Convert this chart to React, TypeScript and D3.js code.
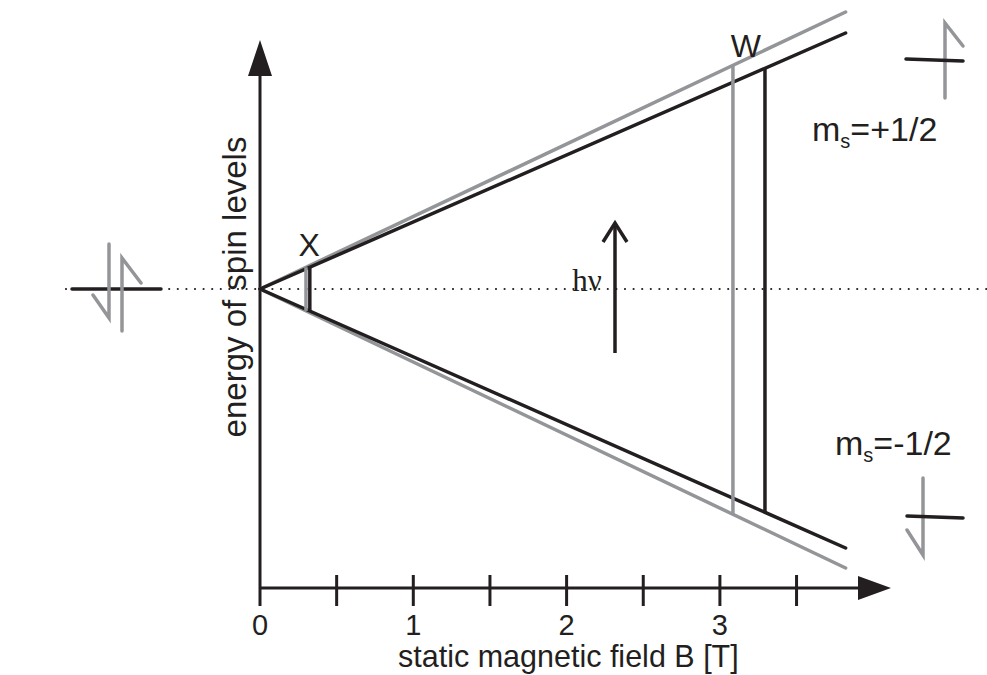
import React from "react"
import {scaleLinear, line} from "d3"

// field axis, tesla
const majorTicks = [0, 1, 2, 3]
const minorTicks = [0.5, 1, 1.5, 2, 2.5, 3, 3.5]
const tickLabels = ["0", "1", "2", "3"]

// energy levels [B, E] (arbitrary units)
const grayUpper = [[0, 0], [3.82, 2.77]]
const blackUpper = [[0, 0], [3.82, 2.56]]
const blackLower = [[0, 0], [3.82, -2.59]]
const grayLower = [[0, 0], [3.82, -2.79]]

// transitions: X band and W band
const grayTransitions = [0.30, 3.085]
const blackTransitions = [0.325, 3.294]
const bandLabels = [{text: "X", b: 0.32, e: 0.33}, {text: "W", b: 3.17, e: 2.32}]

const BLACK = "#231f20"
const GRAY = "#939598"

const slope = (pts: number[][]) => pts[1][1] / pts[1][0]

function App() {
  const x = scaleLinear().domain([0, 1]).range([260, 413.3])
  const y = scaleLinear().domain([0, 1]).range([289, 189])
  const path = line<number[]>().x(d => x(d[0])).y(d => y(d[1]))

  const axisY = 588
  const font = "'Liberation Sans', Arial, sans-serif"

  return (
    <svg width={987} height={675} style={{position: "absolute", left: 0, top: 0}}>
      <rect width={987} height={675} fill="white"/>

      {/* zero-field dotted line */}
      <line x1={66} x2={987} y1={y(0)} y2={y(0)} stroke={BLACK} strokeWidth={2.2}
        strokeDasharray="0 8.6" strokeLinecap="round"/>

      {/* axes */}
      <line x1={x(0)} x2={x(0)} y1={72} y2={606} stroke={BLACK} strokeWidth={3}/>
      <path d={`M${x(0)},40 L${x(0) - 12},76 L${x(0) + 12},76 Z`} fill={BLACK}/>
      <line x1={x(0)} x2={862} y1={axisY} y2={axisY} stroke={BLACK} strokeWidth={3}/>
      <path d={`M891,${axisY} L858,${axisY - 12} L858,${axisY + 12} Z`} fill={BLACK}/>
      {minorTicks.map(t => (
        <line key={t} x1={x(t)} x2={x(t)} y1={575} y2={606} stroke={BLACK} strokeWidth={3}/>
      ))}
      {majorTicks.map((t, i) => (
        <text key={t} x={x(t)} y={635} textAnchor="middle" fontFamily={font} fontSize={29}
          fill={BLACK}>{tickLabels[i]}</text>
      ))}
      <text x={398} y={667} fontFamily={font} fontSize={30.5} fill={BLACK}>
        static magnetic field B [T]</text>
      <text transform={`translate(246,287) rotate(-90)`} textAnchor="middle" fontFamily={font}
        fontSize={33} fill={BLACK}>energy of spin levels</text>

      {/* spin levels */}
      <path d={path(grayUpper) || ""} stroke={GRAY} strokeWidth={3.5} fill="none" strokeLinecap="round"/>
      <path d={path(grayLower) || ""} stroke={GRAY} strokeWidth={3.5} fill="none" strokeLinecap="round"/>
      <path d={path(blackUpper) || ""} stroke={BLACK} strokeWidth={3.5} fill="none" strokeLinecap="round"/>
      <path d={path(blackLower) || ""} stroke={BLACK} strokeWidth={3.5} fill="none" strokeLinecap="round"/>

      {/* transitions */}
      {grayTransitions.map(b => (
        <line key={"g" + b} x1={x(b)} x2={x(b)} y1={y(slope(grayUpper) * b)}
          y2={y(slope(grayLower) * b)} stroke={GRAY} strokeWidth={3.5}/>
      ))}
      {blackTransitions.map(b => (
        <line key={"b" + b} x1={x(b)} x2={x(b)} y1={y(slope(blackUpper) * b)}
          y2={y(slope(blackLower) * b)} stroke={BLACK} strokeWidth={3.5}/>
      ))}
      {bandLabels.map(l => (
        <text key={l.text} x={x(l.b)} y={y(l.e)} textAnchor="middle" fontFamily={font}
          fontSize={32} fill={BLACK}>{l.text}</text>
      ))}

      {/* photon */}
      <line x1={615} x2={615} y1={353} y2={224} stroke={BLACK} strokeWidth={3.5}/>
      <path d="M603,242 L615,223 L627,242" stroke={BLACK} strokeWidth={3.5} fill="none"/>
      <text x={587} y={291} textAnchor="middle" fontFamily="'Liberation Serif', serif"
        fontSize={31} fill={BLACK}>hν</text>

      {/* m_s labels */}
      <text x={812} y={141} fontFamily={font} fontSize={34} fill={BLACK}>
        m<tspan fontSize={20} dy={7}>s</tspan><tspan dy={-7}>=+1/2</tspan>
      </text>
      <text x={835} y={455} fontFamily={font} fontSize={34} fill={BLACK}>
        m<tspan fontSize={20} dy={7}>s</tspan><tspan dy={-7}>=-1/2</tspan>
      </text>

      {/* spin symbols */}
      <g strokeLinecap="round" fill="none" strokeWidth={3.5}>
        <line x1={72} x2={161} y1={289} y2={289} stroke={BLACK}/>
        <path d="M109,244 L109,318 L93,295" stroke={GRAY}/>
        <path d="M122,331 L122,258 L141,283" stroke={GRAY}/>

        <path d="M945,98 L945,23 L963,46" stroke={GRAY}/>
        <line x1={906} x2={963} y1={59} y2={61} stroke={BLACK}/>

        <path d="M923,478 L923,555 L907,530" stroke={GRAY}/>
        <line x1={907} x2={963} y1={516} y2={518} stroke={BLACK}/>
      </g>
    </svg>
  )
}

export default App
